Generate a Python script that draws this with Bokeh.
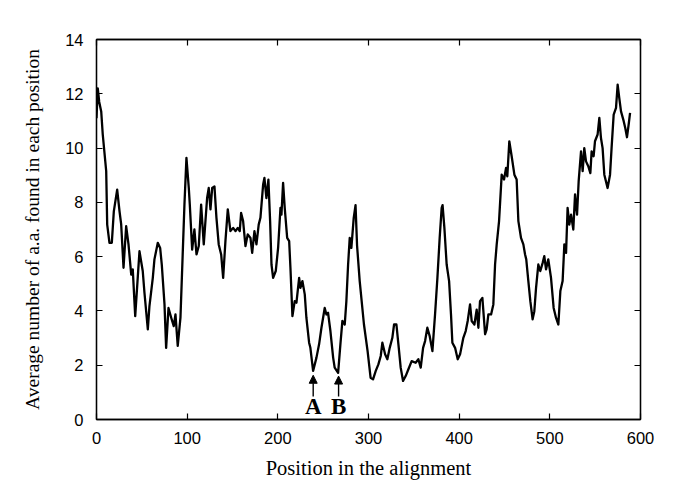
from bokeh.plotting import figure
from bokeh.models import LinearAxis, Range1d, FixedTicker, Arrow, NormalHead, ColumnDataSource
from bokeh.core.properties import value
from bokeh.embed import file_html
from bokeh.resources import INLINE

# ---- data ----
position = [0, 1.4, 3, 5.2, 6.9, 10.7, 11.8, 14.3, 16.9, 19.1, 22.8, 25.4, 27.2, 29.8, 32.7, 35.3,
            38.3, 40, 42.7, 47.4, 51, 52.9, 56.6, 58.4, 62.1, 63.9, 67.6, 70.2, 72, 75, 76.8, 79.4,
            82.4, 85.2, 87.1, 89.6, 92.6, 97, 99.2, 101.8, 102.9, 105.5, 108, 110.3, 112.8, 115.4,
            118.3, 122, 123.8, 125.7, 127.6, 130.1, 132.3, 134.8, 137.5, 139.7, 142.2, 144.8, 147.7,
            150.7, 153.3, 155.8, 158, 159.5, 161.7, 164.3, 166.8, 169.8, 171.7, 174.2, 176.4, 178.9,
            180.8, 183.8, 185.2, 187.4, 189.6, 191.5, 193, 194.8, 197.7, 200.3, 202.9, 204, 205.8,
            207.6, 210.3, 212.5, 213.9, 216.1, 218.6, 220.5, 223.5, 224.9, 227.1, 229.7, 231.5,
            234.5, 235.9, 238.9, 242.6, 245.5, 248.1, 251.7, 253.6, 255.4, 258, 261, 262.7, 266.5,
            269, 271.2, 273.8, 275.6, 277.5, 279.3, 281.1, 283.7, 285.7, 287.4, 290.3, 295, 299,
            302.3, 305, 308, 310.9, 313.5, 315.3, 318.3, 320.8, 323.4, 326.3, 328.2, 330.8, 333,
            335.5, 338.1, 341, 344, 347.6, 352, 355, 357.6, 360.2, 362.4, 364.9, 367.5, 370.5,
            373.4, 376, 378.5, 380.7, 381.7, 383.7, 386.2, 388.9, 391, 392.5, 395.5, 398.4, 401,
            404.6, 407.2, 409.4, 412, 413.8, 416.8, 419.3, 421.2, 423, 425.6, 428.6, 430.3, 432.2,
            435.2, 437.7, 439.6, 441.4, 444, 446.9, 449.5, 451.7, 453.1, 455.3, 457.9, 460.9, 463.4,
            465.3, 468.2, 470.8, 472.7, 474, 476.3, 478.5, 481, 482.9, 484.8, 487.3, 489.5, 492.1,
            493.9, 495.8, 498.3, 501.3, 504.2, 506.8, 509.4, 511.6, 514.1, 516, 517.9, 519.6, 521.5,
            523.4, 525.9, 527.8, 530, 531.8, 534.4, 536.2, 538, 539.9, 542.4, 544.7, 546.1, 548.3,
            549.8, 552.7, 554.6, 556.4, 558.2, 560.1, 563.7, 566.4, 568.1, 570.4, 573, 574.8, 576.6,
            578.5, 581.4, 583.2, 585.1, 586.9, 588.5]
avg_aa = [11.1, 12.2, 11.7, 11.35, 10.5, 9.15, 7.18, 6.51, 6.51, 7.67, 8.47, 7.67, 7.2, 5.59, 7.12, 6.45,
          5.34, 5.53, 3.81, 6.2, 5.47, 4.67, 3.32, 4.18, 5.22, 5.9, 6.51, 6.32, 5.71, 4.24, 2.64, 4.11,
          3.75, 3.44, 3.87, 2.71, 3.75, 7.92, 9.64, 8.53, 7.92, 6.26, 7.0, 6.08, 6.39, 7.92,
          6.45, 8.16, 8.53, 7.74, 8.53, 8.59, 7.43, 6.45, 6.08, 5.22, 6.57, 7.74, 6.94,
          7.06, 6.94, 7.06, 6.94, 7.61, 7.31, 6.39, 6.82, 6.69, 6.14, 6.94, 6.45, 7.18,
          7.43, 8.66, 8.9, 8.16, 8.84, 7.3, 5.71, 5.22, 5.47, 6.32, 7.8, 7.55, 8.72,
          7.8, 6.69, 6.57, 5.59, 3.81, 4.36, 4.3, 5.22, 4.85, 5.1, 4.61, 3.75,
          2.83, 2.64, 1.79, 2.28, 2.77, 3.38, 4.11, 3.87, 3.93, 3.26, 2.28, 1.91, 1.72,
          2.77, 3.63, 3.5, 4.36, 5.71, 6.69, 6.32, 7.43, 7.9, 6.4, 5.1, 3.5, 2.52,
          1.54, 1.48, 1.79, 2.03, 2.34, 2.83, 2.4, 2.22, 2.64, 3.01, 3.5, 3.5, 2.77,
          1.91, 1.42, 1.6, 1.85, 2.15, 2.09, 2.22, 1.91, 2.64, 2.89, 3.38, 3.07, 2.52,
          3.87, 5.22, 6.69, 7.8, 7.9, 7.06, 5.71, 5.1, 3.87, 2.83, 2.64, 2.22, 2.4,
          3.01, 3.26, 3.63, 4.24, 3.63, 3.5, 4.05, 3.38, 4.36, 4.48, 3.14, 3.32, 3.87,
          3.87, 4.24, 5.71, 6.45, 7.31, 9.02, 8.84, 9.27, 8.96, 10.25, 9.7, 9.02, 8.84,
          7.31, 6.69, 6.45, 6.08, 5.9, 5.1, 4.36, 3.69, 3.99, 4.85, 5.71, 5.47, 5.77,
          6.02, 5.53, 5.9, 5.22, 4.11, 3.75, 3.5, 4.73, 5.1, 6.45, 6.14, 7.8, 7.18,
          7.55, 7.0, 8.29, 7.55, 8.78, 9.88, 9.15, 10.0, 9.51, 9.33, 9.08, 9.88, 9.7,
          10.25, 10.5, 11.11, 10.37, 10.0, 9.02, 8.53, 9.02, 10.0, 11.23, 11.48, 12.34, 11.84,
          11.35, 11.0, 10.74, 10.4, 10.86, 11.3]

x_ticks = [0, 100, 200, 300, 400, 500, 600]
y_ticks = [0, 2, 4, 6, 8, 10, 12, 14]

marker_labels = ["A", "B"]
marker_x = [239, 267]
marker_y = [1.75, 1.72]

x_title = "Position in the alignment"
y_title = "Average number of a.a. found in each position"

# ---- figure ----
p = figure(width=677, height=489, output_backend="svg", toolbar_location=None,
           x_range=Range1d(0, 600), y_range=Range1d(0, 14),
           min_border_left=96, min_border_right=37, min_border_top=39, min_border_bottom=70,
           x_axis_label=x_title, y_axis_label=y_title)
p.background_fill_color = "white"
p.border_fill_color = "white"
p.grid.visible = False
p.outline_line_color = "black"
p.outline_line_width = 1.3

for ax, ticks in ((p.xaxis[0], x_ticks), (p.yaxis[0], y_ticks)):
    ax.ticker = FixedTicker(ticks=ticks)
    ax.major_tick_in = 6
    ax.major_tick_out = 0
    ax.minor_tick_line_color = None
    ax.axis_line_width = 1.3
    ax.major_tick_line_width = 1.2
    ax.major_label_text_font = "Liberation Sans"
    ax.major_label_text_font_size = "16.5px"
    ax.major_label_text_color = "black"
    ax.axis_label_text_font = "Liberation Serif"
    ax.axis_label_text_font_style = "normal"
    ax.axis_label_text_color = "black"

p.xaxis.axis_label_text_font_size = "20.5px"
p.yaxis.axis_label_text_font_size = "19.5px"
p.xaxis.major_label_standoff = 12
p.xaxis.axis_label_standoff = 10
p.yaxis.major_label_standoff = 13
p.yaxis.axis_label_standoff = 19

# mirrored inward ticks on top and right
top = LinearAxis(ticker=FixedTicker(ticks=x_ticks), major_tick_in=6, major_tick_out=0,
                 minor_tick_line_color=None, major_label_text_font_size="0px",
                 major_label_overrides={t: "" for t in x_ticks}, major_label_standoff=0,
                 axis_line_width=1.3, major_tick_line_width=1.2)
right = LinearAxis(ticker=FixedTicker(ticks=y_ticks), major_tick_in=6, major_tick_out=0,
                   minor_tick_line_color=None, major_label_text_font_size="0px",
                   major_label_overrides={t: "" for t in y_ticks}, major_label_standoff=0,
                   axis_line_width=1.3, major_tick_line_width=1.2)
p.add_layout(top, "above")
p.add_layout(right, "right")

p.line(position, avg_aa, line_color="black", line_width=2.3, line_join="round")

# markers A and B
for lab, mx, my in zip(marker_labels, marker_x, marker_y):
    p.add_layout(Arrow(end=NormalHead(size=8, fill_color="black", line_color="black", line_width=1),
                       x_start=mx, y_start=0.85, x_end=mx, y_end=my - 0.12,
                       line_color="black", line_width=1.4))

src = ColumnDataSource(dict(x=marker_x, y=[0] * len(marker_x), t=marker_labels))
p.text(x="x", y="y", text="t", source=src, text_align="center", text_baseline="bottom",
       text_font=value("Liberation Serif"), text_font_size="23px", text_font_style="bold",
       text_color="black", y_offset=-1)

open("out.html", "w").write(file_html(p, INLINE))
